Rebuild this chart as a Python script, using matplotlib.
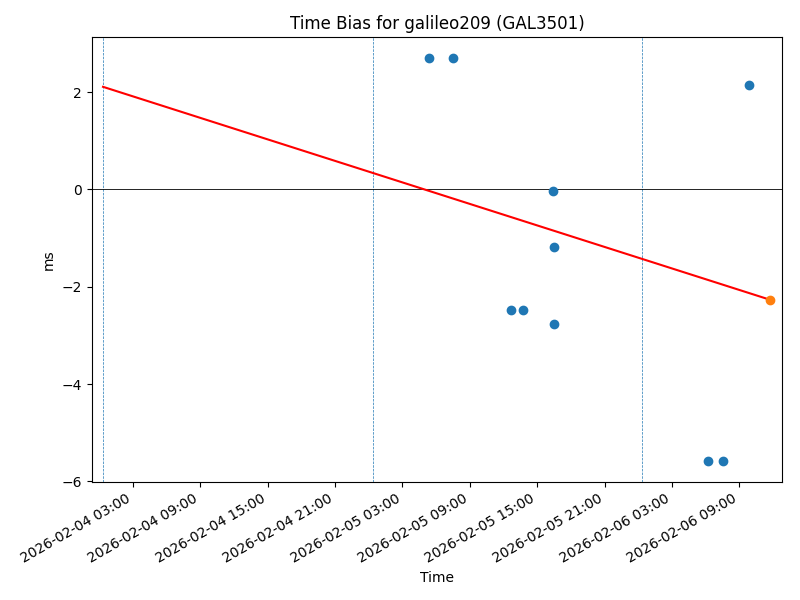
import matplotlib
matplotlib.use("Agg")
import matplotlib.pyplot as plt
import matplotlib.dates as mdates
import numpy as np
import pandas as pd

# Observed time bias samples (ms)
obs_times = ["2026-02-05 05:23", "2026-02-05 07:31", "2026-02-05 12:41", "2026-02-05 13:46",
             "2026-02-05 16:26", "2026-02-05 16:31", "2026-02-05 16:31",
             "2026-02-06 06:15", "2026-02-06 07:35", "2026-02-06 09:49"]
obs_bias = [2.70, 2.70, -2.48, -2.48, -0.03, -1.18, -2.76, -5.58, -5.58, 2.15]

# Latest / predicted point
last_time = ["2026-02-06 11:46"]
last_bias = [-2.27]

# Linear fit line endpoints
fit_times = ["2026-02-04 00:20", "2026-02-06 11:46"]
fit_bias = [2.11, -2.27]

# Day boundary markers
day_marks = ["2026-02-04 00:20", "2026-02-05 00:20", "2026-02-06 00:20"]

x_limits = ["2026-02-03 23:19", "2026-02-06 12:50"]
y_limits = [-6.01, 3.13]

title = "Time Bias for galileo209 (GAL3501)"

fig, ax = plt.subplots(figsize=(8, 6), dpi=100)

for d in pd.to_datetime(day_marks):
    ax.axvline(d, color="C0", linestyle="--", linewidth=0.5)
ax.axhline(0, color="black", linewidth=0.6)

ax.scatter(pd.to_datetime(obs_times), obs_bias, color="C0", zorder=3)
ax.plot(pd.to_datetime(fit_times), fit_bias, color="red", zorder=2)
ax.scatter(pd.to_datetime(last_time), last_bias, color="C1", zorder=4)

ax.set_xlim(pd.to_datetime(x_limits))
ax.set_ylim(y_limits)
ax.xaxis.set_major_locator(mdates.HourLocator(byhour=[3, 9, 15, 21]))
ax.xaxis.set_major_formatter(mdates.DateFormatter("%Y-%m-%d %H:%M"))

ax.set_title(title)
ax.set_xlabel("Time")
ax.set_ylabel("ms")
fig.autofmt_xdate()
fig.subplots_adjust(left=0.1145, right=0.978, top=0.938, bottom=0.197)
fig.savefig("out.png", dpi=100)
